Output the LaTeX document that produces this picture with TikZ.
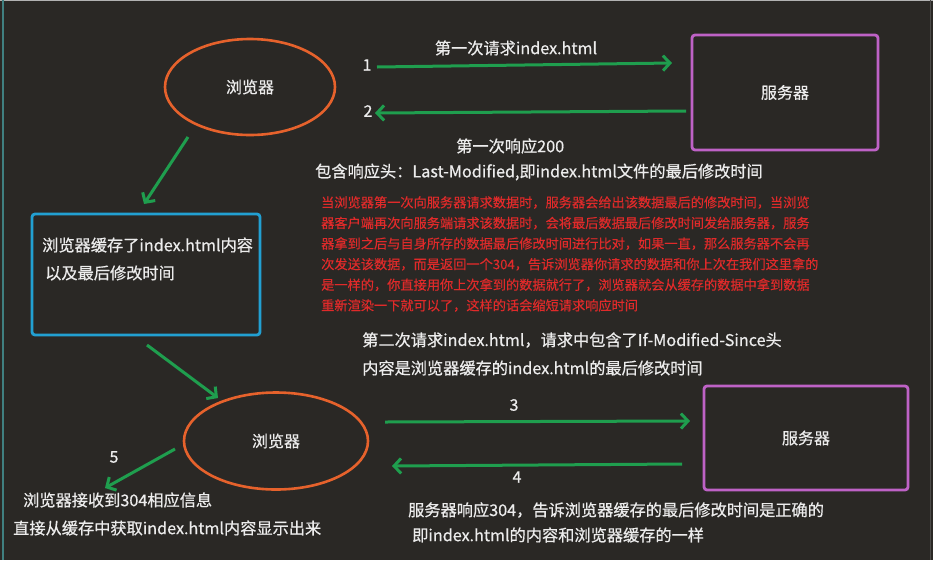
\documentclass[tikz,border=0pt]{standalone}
\usepackage{fontspec}
\newfontfamily\cjk[FakeBold=0.6]{Noto Sans CJK SC}
\newfontfamily\cjkr[FakeBold=0.3]{Noto Sans CJK SC}
\usetikzlibrary{arrows.meta,shapes.geometric}
\definecolor{bgc}{HTML}{2A2825}
\definecolor{orng}{HTML}{E6622C}
\definecolor{purp}{HTML}{BE62C6}
\definecolor{bluec}{HTML}{22A0D2}
\definecolor{grn}{HTML}{1F9E4E}
\definecolor{redt}{HTML}{E02A2A}
\definecolor{wht}{HTML}{ECECEC}
\tikzset{
  browser/.style={ellipse, draw=orng, line width=2.6pt, minimum width=170pt, minimum height=96pt, inner sep=0pt, text=wht, font=\cjk\fontsize{16}{18}\selectfont},
  serverbox/.style={rectangle, rounded corners=3pt, draw=purp, line width=2.8pt, inner sep=0pt, text=wht, font=\cjk\fontsize{16}{18}\selectfont},
  lbl/.style={text=wht, font=\cjk\fontsize{16.2}{18}\selectfont, inner sep=0pt},
  num/.style={text=wht, font=\cjk\fontsize{16}{18}\selectfont, inner sep=0pt},
  garrow/.style={draw=grn, line width=3pt, -{Straight Barb[length=7pt,width=15pt]}},
}
\begin{document}
\begin{tikzpicture}[x=1pt,y=-1pt]
\fill[bgc] (0,0) rectangle (933,560);
\useasboundingbox (0,0) rectangle (933,560);
\draw[line width=1.2pt, color=gray!60] (0,0.6) -- (933,0.6);
\draw[line width=1.5pt, color=teal!50!gray] (3,0) -- (3,560);
\draw[line width=1pt, color=gray!40!bgc] (930,0) -- (930,560);

% top row
\node[browser] (b1) at (250,87) {浏览器};
\node[serverbox, minimum width=186pt, minimum height=115pt] (s1) at (785,92.5) {服务器};

\coordinate (a1s) at (377,67);
\coordinate (a1e) at (672,63);
\draw[garrow] (a1s) -- (a1e);
\node[num] (n1) at (367,65) {1};
\node[lbl] (t1) at (516,48) {第一次请求index.html};

\coordinate (a2s) at (686,111);
\coordinate (a2e) at (375,113);
\draw[garrow] (a2s) -- (a2e);
\node[num] (n2) at (368,111) {2};

\node[lbl, anchor=west] (t2) at (456,146) {第一次响应200};
\node[lbl, anchor=west] (t3) at (315,172) {包含响应头：Last-Modified,即index.html文件的最后修改时间};

% red explanation
\node[anchor=north west, align=left, text=redt, inner sep=0pt,
      font=\cjkr\fontsize{13.2}{20.6}\selectfont] (expl) at (321,196)
{当浏览器第一次向服务器请求数据时，服务器会给出该数据最后的修改时间，当浏览\\
器客户端再次向服务端请求该数据时，会将最后数据最后修改时间发给服务器，服务\\
器拿到之后与自身所存的数据最后修改时间进行比对，如果一直，那么服务器不会再\\
次发送该数据，而是返回一个304，告诉浏览器你请求的数据和你上次在我们这里拿的\\
是一样的，你直接用你上次拿到的数据就行了，浏览器就会从缓存的数据中拿到数据\\
重新渲染一下就可以了，这样的话会缩短请求响应时间};

% cache box
\node[rectangle, rounded corners=3pt, draw=bluec, line width=2.8pt,
      minimum width=228pt, minimum height=121pt, inner sep=0pt] (cache) at (146,274.5) {};
\node[lbl, anchor=west] (c1) at (42,245) {浏览器缓存了index.html内容};
\node[lbl, anchor=west] (c2) at (45,273) {以及最后修改时间};

\coordinate (a0s) at (188,137);
\coordinate (a0e) at (144,204);
\draw[garrow] (a0s) -- (a0e);

\coordinate (a6s) at (147,345);
\coordinate (a6e) at (218,398);
\draw[garrow] (a6s) -- (a6e);

% second request text
\node[lbl, anchor=west] (t4) at (362,340) {第二次请求index.html，请求中包含了If-Modified-Since头};
\node[lbl, anchor=west] (t5) at (362,368) {内容是浏览器缓存的index.html的最后修改时间};

% bottom row
\node[browser, minimum width=184pt, minimum height=97pt] (b2) at (276,441) {浏览器};
\node[serverbox, minimum width=204pt, minimum height=104pt] (s2) at (806,438) {服务器};

\coordinate (a3s) at (385,422);
\coordinate (a3e) at (690,421);
\draw[garrow] (a3s) -- (a3e);
\node[num] (n3) at (514,405) {3};

\coordinate (a4s) at (682,464);
\coordinate (a4e) at (392,466);
\draw[garrow] (a4s) -- (a4e);
\node[num] (n4) at (517,477) {4};

\coordinate (a5s) at (175,449);
\coordinate (a5e) at (105,488);
\draw[garrow] (a5s) -- (a5e);
\node[num] (n5) at (114,457) {5};

\node[lbl, anchor=west] (t6) at (23,500) {浏览器接收到304相应信息};
\node[lbl, anchor=west] (t7) at (13,528) {直接从缓存中获取index.html内容显示出来};
\node[lbl, anchor=west] (t8) at (408,510) {服务器响应304，告诉浏览器缓存的最后修改时间是正确的};
\node[lbl, anchor=west] (t9) at (412,535) {即index.html的内容和浏览器缓存的一样};
\end{tikzpicture}
\end{document}
